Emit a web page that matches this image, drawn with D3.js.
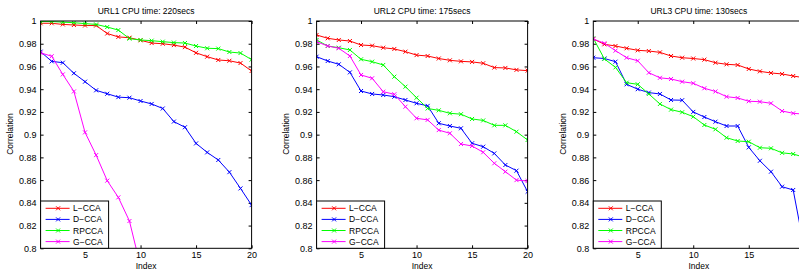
<!DOCTYPE html>
<html>
<head>
<meta charset="utf-8">
<script src="https://cdn.jsdelivr.net/npm/d3@7"></script>
<style>
  body { margin: 0; background: #fff; }
  svg text { font-family: "Liberation Sans", Arial, sans-serif; fill: #000; }
</style>
</head>
<body>
<div id="chart-area"></div>
<script>
// values, index 1..20
const titles = ["URL1 CPU time: 220secs", "URL2 CPU time: 175secs", "URL3 CPU time: 130secs"]
const methods = ["L\u2212CCA", "D\u2212CCA", "RPCCA", "G\u2212CCA"]
const colors = ["#ff0000", "#0000ff", "#00ff00", "#ff00ff"]
const xTicks = [5, 10, 15, 20]
const yTicks = [0.8, 0.82, 0.84, 0.86, 0.88, 0.9, 0.92, 0.94, 0.96, 0.98, 1]

const url1L = [0.998, 0.998, 0.997, 0.9965, 0.996, 0.996, 0.989, 0.986, 0.9853, 0.983, 0.9806, 0.980, 0.9788, 0.977, 0.972, 0.9686, 0.9657, 0.965, 0.963, 0.956]
const url1D = [0.973, 0.9645, 0.9633, 0.954, 0.9466, 0.939, 0.936, 0.933, 0.9325, 0.9296, 0.927, 0.923, 0.9115, 0.9065, 0.8923, 0.8844, 0.8777, 0.867, 0.8527, 0.838]
const url1RP = [0.9995, 0.9995, 0.999, 0.9985, 0.9977, 0.997, 0.9947, 0.992, 0.9845, 0.9833, 0.9827, 0.9818, 0.981, 0.9806, 0.978, 0.976, 0.9757, 0.9727, 0.9718, 0.966]
const url1G = [0.972, 0.969, 0.953, 0.938, 0.902, 0.882, 0.8595, 0.8448, 0.824, 0.784]

const url2L = [0.9877, 0.9848, 0.9833, 0.9824, 0.9789, 0.9783, 0.9765, 0.9754, 0.973, 0.970, 0.9692, 0.967, 0.9654, 0.9645, 0.964, 0.9628, 0.959, 0.9587, 0.957, 0.9563]
const url2D = [0.9686, 0.9648, 0.9619, 0.9548, 0.9384, 0.9358, 0.9349, 0.9334, 0.9305, 0.9276, 0.9253, 0.910, 0.9076, 0.9056, 0.8924, 0.8894, 0.8835, 0.8733, 0.8683, 0.8498]
const url2RP = [0.9833, 0.978, 0.9765, 0.9745, 0.9663, 0.9642, 0.9613, 0.951, 0.9422, 0.9325, 0.923, 0.9214, 0.9188, 0.918, 0.9138, 0.9125, 0.9082, 0.9082, 0.9026, 0.8953]
const url2G = [0.9818, 0.978, 0.976, 0.9692, 0.9525, 0.9496, 0.9378, 0.9355, 0.9246, 0.9144, 0.913, 0.904, 0.9012, 0.8918, 0.89, 0.8845, 0.8748, 0.8674, 0.860, 0.8592]

const url3L = [0.9842, 0.9795, 0.978, 0.976, 0.9742, 0.9736, 0.9724, 0.9692, 0.9677, 0.967, 0.966, 0.9633, 0.9619, 0.9613, 0.9578, 0.9557, 0.9543, 0.9534, 0.9516, 0.950]
const url3D = [0.9677, 0.967, 0.9642, 0.9443, 0.940, 0.937, 0.9358, 0.9305, 0.9303, 0.920, 0.9155, 0.9114, 0.9076, 0.9076, 0.8888, 0.877, 0.8674, 0.8542, 0.8513, 0.800]
const url3RP = [0.9848, 0.9666, 0.9592, 0.9457, 0.9443, 0.9358, 0.927, 0.922, 0.9197, 0.9158, 0.9085, 0.9047, 0.8973, 0.8944, 0.8938, 0.8885, 0.888, 0.884, 0.883, 0.880]
const url3G = [0.9842, 0.9804, 0.9739, 0.9677, 0.965, 0.9545, 0.950, 0.949, 0.9466, 0.9452, 0.9408, 0.938, 0.9334, 0.9323, 0.9294, 0.929, 0.9276, 0.9208, 0.9188, 0.918]

const panels = [
	[url1L, url1D, url1RP, url1G],
	[url2L, url2D, url2RP, url2G],
	[url3L, url3D, url3RP, url3G]
]

const W = 799, H = 270
const PANEL_LEFT = [40.6, 316.6, 593.3]
const PW = 211, TOP = 21, BOTTOM = 248.3

const svg = d3.select("#chart-area").append("svg")
	.attr("width", W)
	.attr("height", H)

panels.forEach((series, p) => {
	const g = svg.append("g")
		.attr("transform", `translate(${PANEL_LEFT[p]}, 0)`)

	const x = d3.scaleLinear().domain([1, 20]).range([0, PW])
	const y = d3.scaleLinear().domain([0.8, 1]).range([BOTTOM, TOP])

	const clipId = "clip" + p
	g.append("clipPath").attr("id", clipId)
		.append("rect")
		.attr("x", 0).attr("y", TOP)
		.attr("width", PW).attr("height", BOTTOM - TOP)

	// ticks pointing inward, on all four sides
	const tl = 3
	g.append("g").attr("transform", `translate(0, ${BOTTOM})`)
		.call(d3.axisBottom(x).tickValues(xTicks).tickSizeInner(-tl).tickSizeOuter(0).tickPadding(3))
	g.append("g").attr("transform", `translate(0, ${TOP})`)
		.call(d3.axisTop(x).tickValues(xTicks).tickSizeInner(-tl).tickSizeOuter(0).tickFormat(""))
	g.append("g")
		.call(d3.axisLeft(y).tickValues(yTicks).tickSizeInner(-tl).tickSizeOuter(0).tickPadding(4)
			.tickFormat(d => d3.format("~g")(d)))
	g.append("g").attr("transform", `translate(${PW}, 0)`)
		.call(d3.axisRight(y).tickValues(yTicks).tickSizeInner(-tl).tickSizeOuter(0).tickFormat(""))

	g.selectAll(".domain").remove()
	g.selectAll(".tick line").attr("stroke", "#000")
	g.selectAll(".tick text").attr("font-size", 9).style("font-family", "Liberation Sans, Arial, sans-serif")

	const plot = g.append("g").attr("clip-path", `url(#${clipId})`)
	const line = d3.line().x((d, i) => x(i + 1)).y(d => y(d))

	series.forEach((vals, k) => {
		plot.append("path")
			.attr("d", line(vals))
			.attr("fill", "none")
			.attr("stroke", colors[k])
			.attr("stroke-width", 1)
		plot.selectAll(".m" + k)
			.data(vals)
			.enter()
			.append("path")
			.attr("class", "m" + k)
			.attr("transform", (d, i) => `translate(${x(i + 1)}, ${y(d)})`)
			.attr("d", "M-2,-2L2,2M-2,2L2,-2")
			.attr("stroke", colors[k])
			.attr("stroke-width", 1)
	})

	// axes box
	g.append("rect")
		.attr("x", 0).attr("y", TOP)
		.attr("width", PW).attr("height", BOTTOM - TOP)
		.attr("fill", "none")
		.attr("stroke", "#000")
		.attr("stroke-width", 1)

	g.append("text")
		.attr("x", PW / 2).attr("y", 14)
		.attr("text-anchor", "middle")
		.attr("font-size", 8.5)
		.text(titles[p])

	g.append("text")
		.attr("x", PW / 2).attr("y", 268.5)
		.attr("text-anchor", "middle")
		.attr("font-size", 8.5)
		.text("Index")

	g.append("text")
		.attr("transform", `translate(-27.5, 134) rotate(-90)`)
		.attr("text-anchor", "middle")
		.attr("font-size", 8.5)
		.text("Correlation")

	// legend
	const leg = g.append("g")
	leg.append("rect")
		.attr("x", 0).attr("y", 201)
		.attr("width", 68).attr("height", BOTTOM - 201)
		.attr("fill", "#fff")
		.attr("stroke", "#000")
		.attr("stroke-width", 1)
	methods.forEach((m, k) => {
		const ly = 208.3 + k * 11.1
		leg.append("line")
			.attr("x1", 5).attr("x2", 29)
			.attr("y1", ly).attr("y2", ly)
			.attr("stroke", colors[k])
		leg.append("path")
			.attr("transform", `translate(17.5, ${ly})`)
			.attr("d", "M-2,-2L2,2M-2,2L2,-2")
			.attr("stroke", colors[k])
		leg.append("text")
			.attr("x", 32.5).attr("y", ly + 3)
			.attr("font-size", 8.5)
			.text(m)
	})
})
</script>
</body>
</html>
